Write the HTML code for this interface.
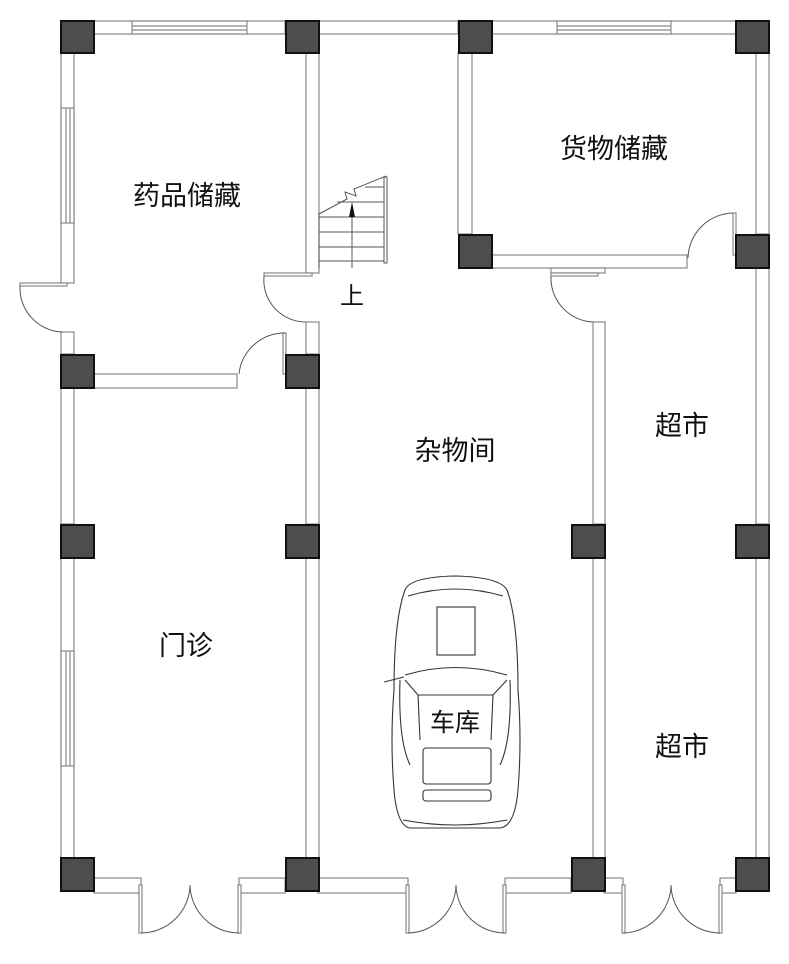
<!DOCTYPE html>
<html><head><meta charset="utf-8"><style>
html,body{margin:0;padding:0;background:#fff;}
svg{display:block}
text{font-family:"Liberation Sans","Noto Sans CJK SC",sans-serif;fill:#111;}
</style></head><body>
<svg width="789" height="964" viewBox="0 0 789 964" xmlns="http://www.w3.org/2000/svg">
<g fill="#fff" stroke="#888" stroke-width="1.2">
<rect x="94" y="21" width="191" height="13"/>
<rect x="319" y="21" width="139" height="13"/>
<rect x="492" y="21" width="244" height="13"/>
<rect x="132" y="21" width="115" height="13"/>
<line x1="132" y1="26" x2="247" y2="26"/><line x1="132" y1="30" x2="247" y2="30"/>
<rect x="557" y="21" width="114" height="13"/>
<line x1="557" y1="26" x2="671" y2="26"/><line x1="557" y1="30" x2="671" y2="30"/>
<rect x="61" y="53" width="13" height="230"/>
<rect x="61" y="108" width="13" height="115"/>
<line x1="66" y1="108" x2="66" y2="223"/><line x1="70" y1="108" x2="70" y2="223"/>
<rect x="61" y="332" width="13" height="22"/>
<rect x="61" y="388" width="13" height="136"/>
<rect x="61" y="558" width="13" height="300"/>
<rect x="61" y="651" width="13" height="115"/>
<line x1="66" y1="651" x2="66" y2="766"/><line x1="70" y1="651" x2="70" y2="766"/>
<rect x="306" y="53" width="13" height="220"/>
<rect x="306" y="322" width="13" height="32"/>
<rect x="306" y="388" width="13" height="136"/>
<rect x="306" y="558" width="13" height="300"/>
<rect x="94" y="374" width="143" height="14"/>
<rect x="283" y="333" width="3" height="41"/>
<rect x="458" y="53" width="14" height="181"/>
<rect x="492" y="255" width="195" height="13"/>
<rect x="733" y="213" width="3" height="42"/>
<rect x="756" y="53" width="13" height="181"/>
<rect x="756" y="268" width="13" height="256"/>
<rect x="756" y="558" width="13" height="300"/>
<rect x="551" y="268" width="54" height="5"/>
<rect x="593" y="322" width="12" height="202"/>
<rect x="593" y="558" width="12" height="300"/>
<rect x="94" y="878" width="47" height="15"/>
<rect x="239" y="878" width="46" height="15"/>
<rect x="318" y="878" width="90" height="15"/>
<rect x="505" y="878" width="66" height="15"/>
<rect x="604" y="878" width="19" height="15"/>
<rect x="720" y="878" width="16" height="15"/>
<rect x="20" y="283" width="47" height="3"/>
<rect x="264" y="273" width="48" height="3"/>
<rect x="551" y="273" width="47" height="3"/>
<rect x="139" y="885" width="3" height="48"/><rect x="238" y="885" width="3" height="48"/>
<rect x="406" y="885" width="3" height="48"/><rect x="503" y="885" width="3" height="48"/>
<rect x="622" y="885" width="3" height="48"/><rect x="719" y="885" width="3" height="48"/>
</g>
<g fill="none" stroke="#555" stroke-width="1">
<path d="M20 286 A44 44 0 0 0 62 332"/>
<path d="M285 333 A46 46 0 0 0 239 374"/>
<path d="M264 276 A42 42 0 0 0 306 322"/>
<path d="M733 213 A46 46 0 0 0 688 258"/>
<path d="M551 276 A44 44 0 0 0 593 322"/>
<path d="M141 933 A49 49 0 0 0 190 885 M239 933 A49 49 0 0 1 190 885"/>
<path d="M408 933 A49 49 0 0 0 456 885 M505 933 A49 49 0 0 1 456 885"/>
<path d="M623 933 A49 49 0 0 0 671 885 M720 933 A49 49 0 0 1 671 885"/>
<path d="M319 214 L347 199 L345 192 L356 196 L354 189 L386 176"/>
<line x1="319" y1="214" x2="319" y2="268"/>
<rect x="384" y="177" width="3" height="86" fill="#fff"/>
<line x1="365" y1="187" x2="384" y2="187"/>
<line x1="337" y1="202" x2="384" y2="202"/>
<line x1="319" y1="217" x2="384" y2="217"/>
<line x1="319" y1="232" x2="384" y2="232"/>
<line x1="319" y1="247" x2="384" y2="247"/>
<line x1="319" y1="261" x2="384" y2="261"/>
<line x1="352" y1="268" x2="352" y2="205"/>
</g>
<path d="M352 202 L349 217 L355 217 Z" fill="#111"/>
<g fill="#4d4d4d" stroke="#111" stroke-width="2">
<rect x="61" y="21" width="33" height="32"/><rect x="286" y="21" width="33" height="32"/>
<rect x="459" y="21" width="33" height="32"/><rect x="736" y="21" width="33" height="32"/>
<rect x="459" y="235" width="33" height="33"/><rect x="736" y="235" width="33" height="33"/>
<rect x="61" y="355" width="33" height="33"/><rect x="286" y="355" width="33" height="33"/>
<rect x="61" y="525" width="33" height="33"/><rect x="286" y="525" width="33" height="33"/>
<rect x="572" y="525" width="33" height="33"/><rect x="736" y="525" width="33" height="33"/>
<rect x="61" y="858" width="33" height="33"/><rect x="286" y="858" width="33" height="33"/>
<rect x="572" y="858" width="33" height="33"/><rect x="736" y="858" width="33" height="33"/>
</g>
<g fill="none" stroke="#333" stroke-width="1.1">
<path d="M405 590 Q410 577 455 576 Q500 577 507 590 Q518 620 518 690 Q522 740 518 790 Q515 826 500 828 L410 828 Q397 826 394 790 Q390 740 394 690 Q394 620 405 590 Z"/>
<path d="M408 596 Q455 582 503 596"/>
<rect x="437" y="607" width="38" height="48"/>
<path d="M405 675 Q455 660 507 675"/>
<path d="M405 680 L418 695 L493 695 L507 680"/>
<path d="M418 695 L420 740 M493 695 L491 740"/>
<rect x="423" y="748" width="68" height="36" rx="3"/>
<rect x="423" y="790" width="68" height="11" rx="3"/>
<path d="M400 680 Q398 740 410 765 M510 680 Q512 740 500 765"/>
<line x1="384" y1="682" x2="404" y2="677"/>
<path d="M403 820 Q455 830 507 820"/>
</g>
<g font-size="27" text-anchor="middle">
<text x="187" y="205">药品储藏</text>
<text x="614" y="158">货物储藏</text>
<text x="455" y="460">杂物间</text>
<text x="682" y="435">超市</text>
<text x="682" y="756">超市</text>
<text x="186" y="655">门诊</text>
<text x="455" y="731" font-size="25">车库</text>
<text x="352" y="304" font-size="24">上</text>
</g>
</svg>
</body></html>
